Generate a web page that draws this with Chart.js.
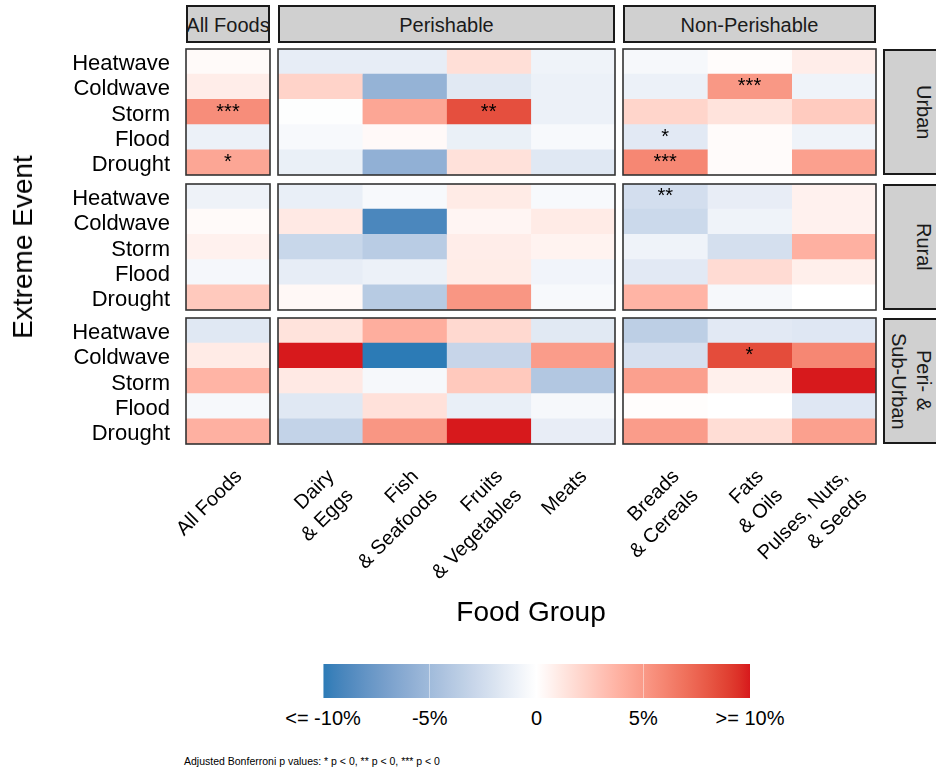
<!DOCTYPE html>
<html>
<head>
<meta charset="utf-8">
<script src="https://cdn.jsdelivr.net/npm/chart.js@4.4.1/dist/chart.umd.min.js"></script>
<style>
  body { margin:0; background:#fff; font-family:"Liberation Sans", Arial, sans-serif; }
  #wrap { position:relative; width:936px; height:773px; overflow:hidden; background:#fff; }
  #wrap canvas { position:absolute; }
  .strip { position:absolute; box-sizing:border-box; border:2px solid #1a1a1a; background:#d0d0d0;
           color:#1a1a1a; font-size:20px; display:flex; align-items:center; justify-content:center;
           white-space:nowrap; overflow:hidden; padding-top:2px; }
  .rstrip-text { position:absolute; writing-mode:vertical-rl; text-align:center; color:#1a1a1a;
                 font-size:20px; line-height:25px; white-space:pre; display:flex; align-items:center; }
  .axis-title { position:absolute; font-size:28px; color:#000; white-space:nowrap; }
  .leg-label { position:absolute; font-size:20px; color:#000; white-space:nowrap; transform:translate(-50%,-50%); }
  #caption { position:absolute; left:184px; top:755px; font-size:10.5px; color:#000; white-space:nowrap; }
</style>
</head>
<body>
<div id="wrap"></div>
<script>
const events = ["Heatwave", "Coldwave", "Storm", "Flood", "Drought"];
const facets = ["All Foods", "Perishable", "Non-Perishable"];
const regions = ["Urban", "Rural", "Peri- &\nSub-Urban"];
const foodGroups = [
  ["All Foods"],
  [["Dairy", "& Eggs"], ["Fish", "& Seafoods"], ["Fruits", "& Vegetables"], "Meats"],
  [["Breads", "& Cereals"], ["Fats", "& Oils"], ["Pulses, Nuts,", "& Seeds"]]
];

// % price change; rows follow events, columns:
// All Foods | Dairy, Fish, Fruits, Meats | Breads, Fats, Pulses
const urban = [
  [ 0.25, -1.3, -1.3,  1.6, -0.85, -0.5,  0.15,  0.9 ],
  [ 0.9,   2.2, -5.6, -1.6, -1.0,  -1.0,  5.1,  -0.85],
  [ 5.6,  -0.1,  4.4,  8.4, -1.0,   2.1,  1.4,   2.6 ],
  [-1.0,  -0.45, 0.3, -1.1, -0.4,  -1.55, 0.2,  -0.85],
  [ 4.4,  -1.1, -5.8,  1.5, -1.65,  5.9,  0.2,   4.7 ]
];
const rural = [
  [-0.9,  -1.15, -0.4, 1.0,  -0.4,  -2.35, -1.25, 0.7],
  [ 0.25,  1.1,  -9.0, 0.5,   1.0,  -2.75, -0.85, 0.7],
  [ 0.7,  -2.9,  -3.7, 0.9,   0.6,  -0.85, -2.3,  3.9],
  [-0.55, -1.3,  -1.0, 0.95, -0.75, -1.55,  1.8,  0.8],
  [ 2.7,   0.35, -3.8, 5.2,  -0.45,  3.7,  -0.5,  0  ]
];
const periUrban = [
  [-1.65,  1.4,   4.0,  1.9,  -1.6,  -3.5,  -1.55, -1.7],
  [ 1.0,  10,   -10,   -3.0,   4.9,  -2.2,   8.5,   5.9],
  [ 3.7,   1.1,  -0.5,  2.7,  -4.1,   4.7,   0.75, 10  ],
  [-0.5,  -1.65,  1.5, -1.15, -0.5,   0.1,   0,    -1.7],
  [ 3.9,  -3.2,   5.2, 10,    -1.25,  4.9,   1.7,   4.7]
];

// significance stars, same layout as the value tables
const urbanSig = [
  ["",    "", "", "",   "", "",    "",    ""],
  ["",    "", "", "",   "", "",    "***", ""],
  ["***", "", "", "**", "", "",    "",    ""],
  ["",    "", "", "",   "", "*",   "",    ""],
  ["*",   "", "", "",   "", "***", "",    ""]
];
const ruralSig = [
  ["", "", "", "", "", "**", "", ""],
  ["", "", "", "", "", "",   "", ""],
  ["", "", "", "", "", "",   "", ""],
  ["", "", "", "", "", "",   "", ""],
  ["", "", "", "", "", "",   "", ""]
];
const periUrbanSig = [
  ["", "", "", "", "", "", "",  ""],
  ["", "", "", "", "", "", "*", ""],
  ["", "", "", "", "", "", "",  ""],
  ["", "", "", "", "", "", "",  ""],
  ["", "", "", "", "", "", "",  ""]
];

const legendBreaks = [-10, -5, 0, 5, 10];
const legendLabels = ["<= -10%", "-5%", "0", "5%", ">= 10%"];

const regionValues = [urban, rural, periUrban];
const regionSig = [urbanSig, ruralSig, periUrbanSig];

// ---- layout ----
const FONT = '"Liberation Sans", Arial, sans-serif';
const colX = [186, 278, 623];
const colW = [84, 337, 253];
const rowY = [49, 184, 318];
const rowH = 126;
const PAD = 3;
const X_AXIS_H = 170;
const facetStart = [0, 1, 5];

Chart.defaults.font.family = FONT;

// ---- diverging fill, interpolated in CIELAB ----
function hexToRgb(h){
  return [1, 3, 5].map(i => parseInt(h.slice(i, i + 2), 16));
}
function toLin(c){ c /= 255; return c <= 0.04045 ? c / 12.92 : Math.pow((c + 0.055) / 1.055, 2.4); }
function fromLin(c){
  const v = c <= 0.0031308 ? 12.92 * c : 1.055 * Math.pow(c, 1 / 2.4) - 0.055;
  return Math.round(Math.max(0, Math.min(1, v)) * 255);
}
const WP = [0.95047, 1, 1.08883];
function rgbToLab(rgb){
  const [r, g, b] = rgb.map(toLin);
  const xyz = [
    0.4124 * r + 0.3576 * g + 0.1805 * b,
    0.2126 * r + 0.7152 * g + 0.0722 * b,
    0.0193 * r + 0.1192 * g + 0.9505 * b
  ].map((v, i) => v / WP[i]);
  const f = t => t > 0.008856 ? Math.cbrt(t) : 7.787 * t + 16 / 116;
  const [fx, fy, fz] = xyz.map(f);
  return [116 * fy - 16, 500 * (fx - fy), 200 * (fy - fz)];
}
function labToRgb(lab){
  const fy = (lab[0] + 16) / 116, fx = fy + lab[1] / 500, fz = fy - lab[2] / 200;
  const fi = t => t > 0.206893 ? t * t * t : (t - 16 / 116) / 7.787;
  const [x, y, z] = [fi(fx), fi(fy), fi(fz)].map((v, i) => v * WP[i]);
  const r =  3.2406 * x - 1.5372 * y - 0.4986 * z;
  const g = -0.9689 * x + 1.8758 * y + 0.0415 * z;
  const b =  0.0557 * x - 0.2040 * y + 1.0570 * z;
  return [fromLin(r), fromLin(g), fromLin(b)];
}
const LOW = rgbToLab(hexToRgb("#2c7bb6"));
const MID = rgbToLab(hexToRgb("#ffffff"));
const HIGH = rgbToLab(hexToRgb("#d7191c"));

function fillFor(v){
  const t = Math.max(-1, Math.min(1, v / 10));
  const end = t < 0 ? LOW : HIGH;
  const k = Math.abs(t);
  const lab = MID.map((m, i) => m + (end[i] - m) * k);
  const [r, g, b] = labToRgb(lab);
  return `rgb(${r},${g},${b})`;
}

// scales may ask for extra room for overhanging labels; panels are fixed here
function noOverhang(s){
  s.paddingLeft = s.paddingRight = s.paddingTop = s.paddingBottom = 0;
}

// ---- plugins ----
const panelFrame = {
  id: "panelFrame",
  afterDraw(chart){
    const { ctx, chartArea: a } = chart;
    ctx.save();
    ctx.strokeStyle = "#333";
    ctx.lineWidth = 1.6;
    ctx.strokeRect(a.left, a.top, a.right - a.left, a.bottom - a.top);
    ctx.restore();
  }
};

const starLabels = {
  id: "starLabels",
  afterDatasetsDraw(chart){
    const { ctx, scales } = chart;
    ctx.save();
    ctx.fillStyle = "#000";
    ctx.font = `20px ${FONT}`;
    ctx.textAlign = "center";
    ctx.textBaseline = "middle";
    chart.data.datasets.forEach((ds, j) => {
      ds.stars.forEach((s, i) => {
        if (!s) return;
        ctx.fillText(s, scales.x.getPixelForValue(j + 0.5), scales.y.getPixelForValue(i));
      });
    });
    ctx.restore();
  }
};

// ---- one chart per facet panel ----
const wrap = document.getElementById("wrap");

function makePanel(r, c){
  const vals = regionValues[r];
  const sig = regionSig[r];
  const start = facetStart[c];
  const labels = foodGroups[c];
  const n = labels.length;
  const isLeft = c === 0;
  const isBottom = r === regionValues.length - 1;

  const canvas = document.createElement("canvas");
  const left = isLeft ? 0 : colX[c] - PAD;
  const width = isLeft ? colX[c] + colW[c] + PAD : colW[c] + 2 * PAD;
  const height = PAD + rowH + (isBottom ? X_AXIS_H : PAD);
  canvas.width = width;
  canvas.height = height;
  canvas.style.left = left + "px";
  canvas.style.top = (rowY[r] - PAD) + "px";
  wrap.appendChild(canvas);

  const datasets = [];
  for (let j = 0; j < n; j++){
    datasets.push({
      data: events.map(() => [j, j + 1]),
      backgroundColor: events.map((_, i) => fillFor(vals[i][start + j])),
      stars: events.map((_, i) => sig[i][start + j])
    });
  }

  new Chart(canvas, {
    type: "bar",
    data: { labels: events, datasets },
    options: {
      indexAxis: "y",
      responsive: false,
      animation: false,
      layout: { padding: { left: isLeft ? 0 : PAD, right: PAD, top: PAD, bottom: isBottom ? 0 : PAD } },
      datasets: { bar: { grouped: false, barPercentage: 1, categoryPercentage: 1, borderWidth: 0 } },
      plugins: { legend: { display: false }, tooltip: { enabled: false } },
      scales: {
        x: { type: "linear", min: 0, max: n, display: false, afterFit: noOverhang },
        y: {
          type: "category",
          display: isLeft,
          grid: { display: false, drawTicks: false },
          border: { display: false },
          ticks: { color: "#000", font: { size: 22 }, padding: 16, autoSkip: false, labelOffset: 2.5 },
          afterFit: s => { noOverhang(s); if (isLeft) s.width = colX[0]; }
        },
        xl: {
          type: "category",
          axis: "x",
          position: "bottom",
          labels,
          offset: true,
          display: isBottom,
          grid: { display: false, drawTicks: false },
          border: { display: false },
          ticks: {
            color: "#000", font: { size: 20, lineHeight: 1.35 },
            minRotation: 45, maxRotation: 45, autoSkip: false,
            padding: 20, labelOffset: 11
          },
          afterFit: s => { noOverhang(s); if (isBottom) s.height = X_AXIS_H; }
        }
      }
    },
    plugins: [starLabels, panelFrame]
  });
}

regionValues.forEach((_, r) => facets.forEach((_, c) => makePanel(r, c)));

// ---- strips ----
facets.forEach((f, c) => {
  const d = document.createElement("div");
  d.className = "strip";
  d.style.left = colX[c] + "px";
  d.style.width = colW[c] + "px";
  d.style.top = "5px";
  d.style.height = "38px";
  d.textContent = f;
  wrap.appendChild(d);
});
regions.forEach((g, r) => {
  const d = document.createElement("div");
  d.className = "strip";
  d.style.left = "883px";
  d.style.width = "80px";
  d.style.top = rowY[r] + "px";
  d.style.height = rowH + "px";
  wrap.appendChild(d);
  const t = document.createElement("div");
  t.className = "rstrip-text";
  t.style.right = "0px";
  t.style.top = rowY[r] + "px";
  t.style.height = rowH + "px";
  t.style.justifyContent = "center";
  t.textContent = g;
  wrap.appendChild(t);
});

// ---- axis titles ----
const yTitle = document.createElement("div");
yTitle.className = "axis-title";
yTitle.textContent = "Extreme Event";
yTitle.style.left = "23px";
yTitle.style.top = "247px";
yTitle.style.transform = "translate(-50%,-50%) rotate(-90deg)";
wrap.appendChild(yTitle);

const xTitle = document.createElement("div");
xTitle.className = "axis-title";
xTitle.textContent = "Food Group";
xTitle.style.left = "531px";
xTitle.style.top = "612px";
xTitle.style.transform = "translate(-50%,-50%)";
wrap.appendChild(xTitle);

// ---- colour bar ----
const BAR_X = 323, BAR_W = 427, BAR_Y = 664, BAR_H = 34;
const barPos = v => BAR_X + (v - legendBreaks[0]) / (legendBreaks[legendBreaks.length - 1] - legendBreaks[0]) * BAR_W;
const stops = [];
for (let v = -10; v <= 10; v += 0.5){
  stops.push(`${fillFor(v)} ${((v + 10) / 20 * 100).toFixed(2)}%`);
}
const bar = document.createElement("div");
bar.style.cssText = `position:absolute;left:${BAR_X}px;top:${BAR_Y}px;width:${BAR_W}px;height:${BAR_H}px;` +
  `background:linear-gradient(to right, ${stops.join(",")});`;
wrap.appendChild(bar);
legendBreaks.forEach((b, i) => {
  const tick = document.createElement("div");
  tick.style.cssText = `position:absolute;left:${barPos(b) - 0.5}px;top:${BAR_Y}px;width:1px;height:${BAR_H}px;background:rgba(255,255,255,0.45);`;
  wrap.appendChild(tick);
  const l = document.createElement("div");
  l.className = "leg-label";
  l.style.left = barPos(b) + "px";
  l.style.top = "718px";
  l.textContent = legendLabels[i];
  wrap.appendChild(l);
});

const cap = document.createElement("div");
cap.id = "caption";
cap.textContent = "Adjusted Bonferroni p values: * p < 0, ** p < 0, *** p < 0";
wrap.appendChild(cap);
</script>
</body>
</html>
